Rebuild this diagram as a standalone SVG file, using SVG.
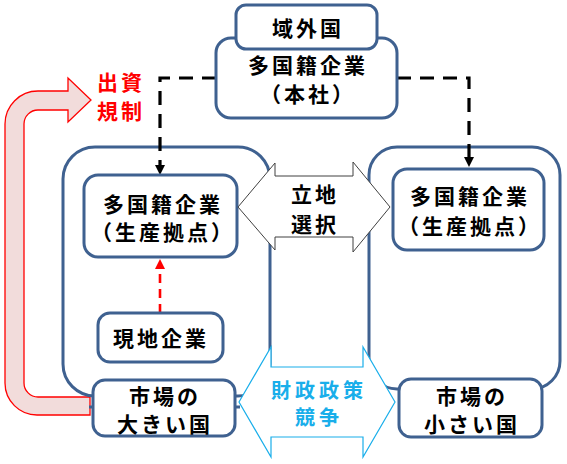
<svg xmlns="http://www.w3.org/2000/svg" width="567" height="464" viewBox="0 0 567 464">
<style>
.box{fill:#fff;stroke:#3F6190;stroke-width:3}
.big{fill:none;stroke:#3F6190;stroke-width:3}
.t{font-family:"Noto Sans CJK JP","Noto Sans CJK SC",sans-serif;font-weight:bold;font-size:21px;letter-spacing:3px;text-anchor:middle;dominant-baseline:central;fill:#000}
.red{fill:#FF0000}
.cyan{fill:#19AEEA;font-size:20px;letter-spacing:4px}
.dash{fill:none;stroke:#000;stroke-width:3.2;stroke-dasharray:14 9}
</style>
<rect width="567" height="464" fill="#fff"/>
<g id="regulation-arrow">
<path d="M90,415 L37,415 A32,32 0 0 1 5,383 L5,124 A33,33 0 0 1 38,91 L68,91 L68,78 L91,100 L68,122 L68,110 L38,110 A14,14 0 0 0 24,124 L24,383 A14,14 0 0 0 38,397 L90,397 Z" fill="#F2DCDB" stroke="#FF0000" stroke-width="1.3"/>
<text class="t red" x="121" y="81">出資</text>
<text class="t red" x="121" y="110">規制</text>
</g>
<g id="large-country-region">
<rect class="big" x="63" y="147" width="207" height="249" rx="32"/>
</g>
<g id="small-country-region">
<rect class="big" x="369" y="147" width="191" height="242" rx="28"/>
</g>
<g id="connectors">
<path class="dash" d="M216,78 L160,78 L160,165"/>
<path d="M155,165 L165,165 L160,175 Z" fill="#000"/>
<path class="dash" d="M397,78 L469,78 L469,157"/>
<path d="M464,157 L474,157 L469,167 Z" fill="#000"/>
<path d="M160,313 L160,268" fill="none" stroke="#FF0000" stroke-width="2.6" stroke-dasharray="9 6"/>
<path d="M155,269 L165,269 L160,259 Z" fill="#FF0000"/>
<path d="M89,407 L93,407 M235,407 L240,407" stroke="#3F6190" stroke-width="3"/>
</g>
<g id="hq">
<rect class="box" x="216" y="38" width="181" height="80" rx="15"/>
<text class="t" x="308" y="64">多国籍企業</text>
<text class="t" x="308" y="93">（本社）</text>
</g>
<g id="outside-country">
<rect class="box" x="236" y="5" width="141" height="44" rx="10"/>
<text class="t" x="308" y="27">域外国</text>
</g>
<g id="mne-left">
<rect class="box" x="84" y="175" width="153" height="82" rx="14"/>
<text class="t" x="163" y="203">多国籍企業</text>
<text class="t" x="163" y="231">（生産拠点）</text>
</g>
<g id="mne-right">
<rect class="box" x="393" y="169" width="151" height="81" rx="14"/>
<text class="t" x="470" y="195">多国籍企業</text>
<text class="t" x="470" y="225">（生産拠点）</text>
</g>
<g id="local-firm">
<rect class="box" x="98" y="313" width="125" height="49" rx="12"/>
<text class="t" x="161" y="337">現地企業</text>
</g>
<g id="large-market">
<rect class="box" x="93" y="380" width="142" height="56" rx="12"/>
<text class="t" x="165" y="395">市場の</text>
<text class="t" x="165" y="423">大きい国</text>
</g>
<g id="small-market">
<rect class="box" x="399" y="379" width="143" height="58" rx="12"/>
<text class="t" x="472" y="395">市場の</text>
<text class="t" x="472" y="423">小さい国</text>
</g>
<g id="location-choice">
<path d="M238,207 L275,163 L275,176 L353,176 L353,162 L390,207 L353,252 L353,237 L275,237 L275,250 Z" fill="#fff" stroke="#404040" stroke-width="1"/>
<text class="t" x="315" y="193">立地</text>
<text class="t" x="315" y="223">選択</text>
</g>
<g id="fiscal-competition">
<path d="M239,402 L271,347 L271,367 L363,367 L363,347 L395,402 L363,457 L363,437 L271,437 L271,457 Z" fill="#fff" stroke="#19AEEA" stroke-width="1.2"/>
<text class="t cyan" x="319" y="389">財政政策</text>
<text class="t cyan" x="319" y="416">競争</text>
</g>
</svg>
